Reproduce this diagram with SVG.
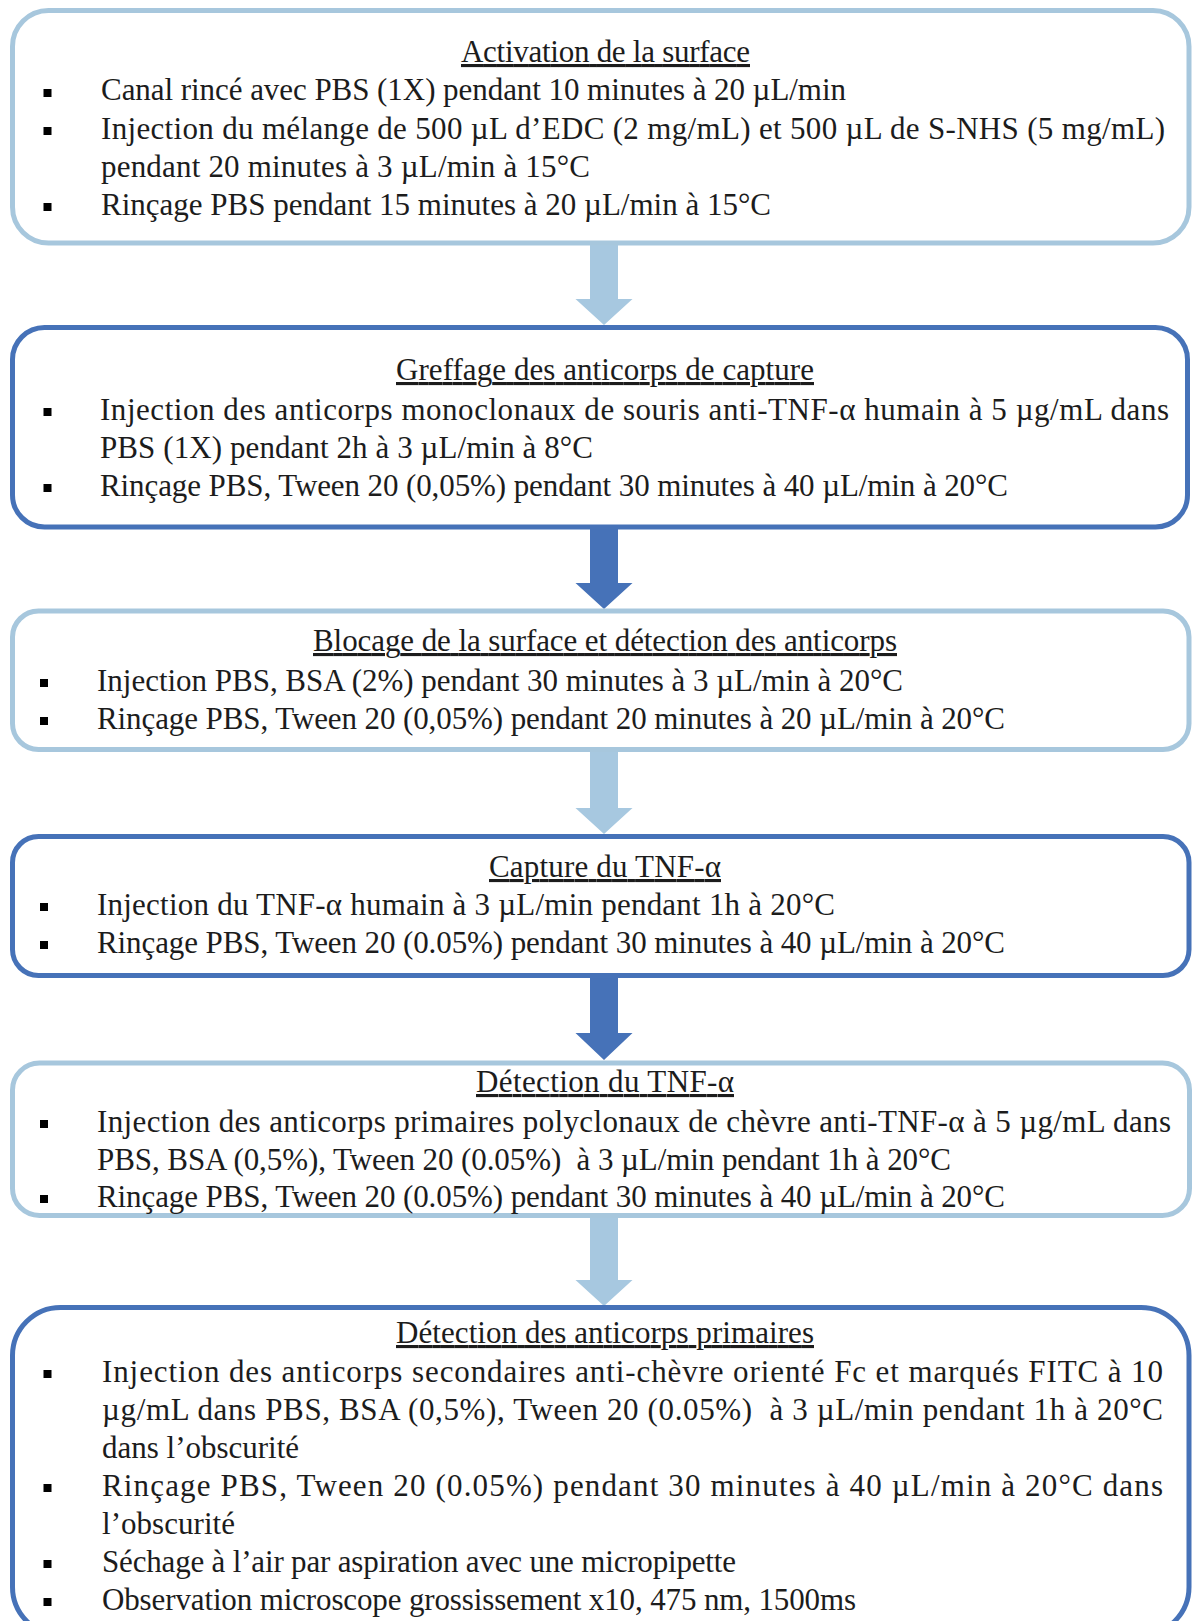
<svg xmlns="http://www.w3.org/2000/svg" width="1193" height="1621" viewBox="0 0 1193 1621">
<style>
.t{font-family:"Liberation Serif","Times New Roman",serif;font-size:31px;fill:#1c1c1c}
.h{text-anchor:middle;text-decoration:underline}
.lb{fill:#fff;stroke:#A7C7DD;stroke-width:5}
.db{fill:#fff;stroke:#4672B8;stroke-width:5}
.la{fill:#A7C8E0}
.da{fill:#4672B8}
.b{fill:#000}
</style>
<rect width="1193" height="1621" fill="#fff"/>
<g id="connectors">
<polygon class="la" points="590,245 618,245 618,299 632.5,299 604,325 575.5,299 590,299"/>
<polygon class="da" points="590,529 618,529 618,583 632.5,583 604,609 575.5,583 590,583"/>
<polygon class="la" points="590,752 618,752 618,808 632.5,808 604,834 575.5,808 590,808"/>
<polygon class="da" points="590,978 618,978 618,1033 632.5,1033 604,1060 575.5,1033 590,1033"/>
<polygon class="la" points="590,1218 618,1218 618,1280 632.5,1280 604,1306 575.5,1280 590,1280"/>
</g>
<g id="box1">
<rect class="lb" x="12.5" y="10.5" width="1176.5" height="232.5" rx="36"/>
<text class="t h" x="605.5" y="62" textLength="289">Activation de la surface</text>
<rect class="b" x="43.5" y="89" width="8" height="8"/>
<text class="t" x="101" y="100" textLength="745">Canal rincé avec PBS (1X) pendant 10 minutes à 20 µL/min</text>
<rect class="b" x="43.5" y="127" width="8" height="8"/>
<text class="t" x="101" y="139" textLength="1064">Injection du mélange de 500 µL d’EDC (2 mg/mL) et 500 µL de S-NHS (5 mg/mL)</text>
<text class="t" x="101" y="177" textLength="489">pendant 20 minutes à 3 µL/min à 15°C</text>
<rect class="b" x="43.5" y="203" width="8" height="8"/>
<text class="t" x="101" y="215" textLength="670">Rinçage PBS pendant 15 minutes à 20 µL/min à 15°C</text>
</g>
<g id="box2">
<rect class="db" x="12.5" y="327.5" width="1175" height="199.5" rx="32"/>
<text class="t h" x="605" y="380" textLength="418">Greffage des anticorps de capture</text>
<rect class="b" x="43.5" y="408" width="8" height="8"/>
<text class="t" x="100" y="420" textLength="1069">Injection des anticorps monoclonaux de souris anti-TNF-α humain à 5 µg/mL dans</text>
<text class="t" x="100" y="458" textLength="493">PBS (1X) pendant 2h à 3 µL/min à 8°C</text>
<rect class="b" x="43.5" y="484" width="8" height="8"/>
<text class="t" x="100" y="496" textLength="908">Rinçage PBS, Tween 20 (0,05%) pendant 30 minutes à 40 µL/min à 20°C</text>
</g>
<g id="box3">
<rect class="lb" x="12.5" y="611" width="1176.5" height="138.5" rx="26"/>
<text class="t h" x="605" y="651" textLength="584">Blocage de la surface et détection des anticorps</text>
<rect class="b" x="40" y="679" width="8" height="8"/>
<text class="t" x="97" y="691" textLength="806">Injection PBS, BSA (2%) pendant 30 minutes à 3 µL/min à 20°C</text>
<rect class="b" x="40" y="717" width="8" height="8"/>
<text class="t" x="97" y="729" textLength="908">Rinçage PBS, Tween 20 (0,05%) pendant 20 minutes à 20 µL/min à 20°C</text>
</g>
<g id="box4">
<rect class="db" x="12.5" y="836.5" width="1176.5" height="139" rx="26"/>
<text class="t h" x="605" y="877" textLength="232">Capture du TNF-α</text>
<rect class="b" x="40" y="903" width="8" height="8"/>
<text class="t" x="97" y="915" textLength="738">Injection du TNF-α humain à 3 µL/min pendant 1h à 20°C</text>
<rect class="b" x="40" y="941" width="8" height="8"/>
<text class="t" x="97" y="953" textLength="908">Rinçage PBS, Tween 20 (0.05%) pendant 30 minutes à 40 µL/min à 20°C</text>
</g>
<g id="box5">
<rect class="lb" x="12.5" y="1063" width="1177" height="152.5" rx="27"/>
<text class="t h" x="605" y="1092" textLength="258">Détection du TNF-α</text>
<rect class="b" x="40" y="1120" width="8" height="8"/>
<text class="t" x="97" y="1132" textLength="1074">Injection des anticorps primaires polyclonaux de chèvre anti-TNF-α à 5 µg/mL dans</text>
<text class="t" x="97" y="1170" textLength="854" xml:space="preserve">PBS, BSA (0,5%), Tween 20 (0.05%)  à 3 µL/min pendant 1h à 20°C</text>
<rect class="b" x="40" y="1195" width="8" height="8"/>
<text class="t" x="97" y="1207" textLength="908">Rinçage PBS, Tween 20 (0.05%) pendant 30 minutes à 40 µL/min à 20°C</text>
</g>
<g id="box6">
<rect class="db" x="12.5" y="1307.5" width="1176.5" height="327.5" rx="48"/>
<text class="t h" x="605" y="1343" textLength="418">Détection des anticorps primaires</text>
<rect class="b" x="43.5" y="1370" width="8" height="8"/>
<text class="t" x="102" y="1382" textLength="1061">Injection des anticorps secondaires anti-chèvre orienté Fc et marqués FITC à 10</text>
<text class="t" x="102" y="1420" textLength="1061" xml:space="preserve">µg/mL dans PBS, BSA (0,5%), Tween 20 (0.05%)  à 3 µL/min pendant 1h à 20°C</text>
<text class="t" x="102" y="1458" textLength="197">dans l’obscurité</text>
<rect class="b" x="43.5" y="1484" width="8" height="8"/>
<text class="t" x="102" y="1496" textLength="1061">Rinçage PBS, Tween 20 (0.05%) pendant 30 minutes à 40 µL/min à 20°C dans</text>
<text class="t" x="102" y="1534" textLength="133">l’obscurité</text>
<rect class="b" x="43.5" y="1560" width="8" height="8"/>
<text class="t" x="102" y="1572" textLength="634">Séchage à l’air par aspiration avec une micropipette</text>
<rect class="b" x="43.5" y="1598" width="8" height="8"/>
<text class="t" x="102" y="1610" textLength="754">Observation microscope grossissement x10, 475 nm, 1500ms</text>
</g>
</svg>
